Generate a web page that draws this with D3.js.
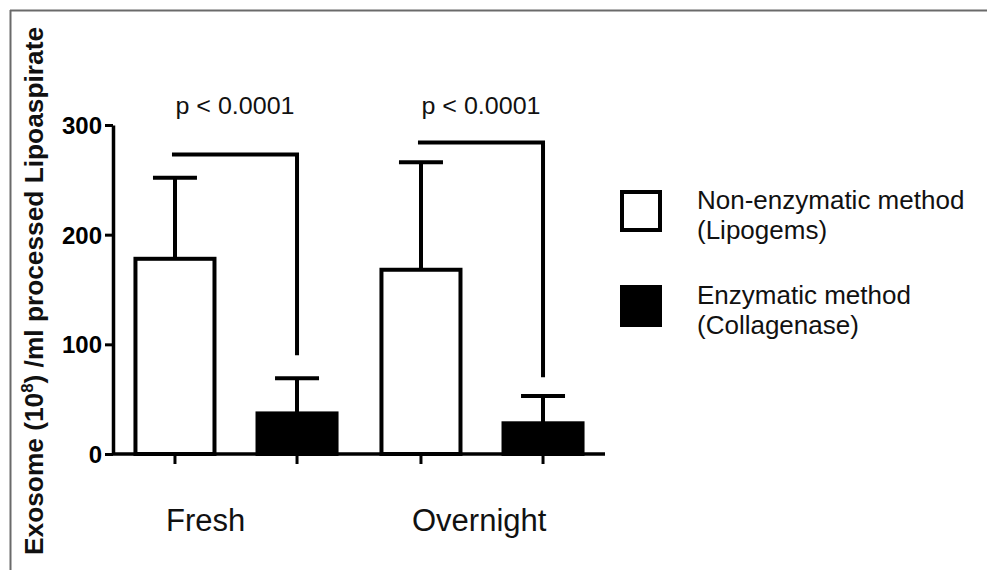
<!DOCTYPE html>
<html>
<head>
<meta charset="utf-8">
<script src="https://cdn.jsdelivr.net/npm/d3@7"></script>
<style>
  html, body { margin: 0; padding: 0; background: #fff; }
  svg { display: block; font-family: "Liberation Sans", Arial, Helvetica, sans-serif; }
</style>
</head>
<body>
<svg id="chart" width="987" height="570"></svg>
<script>
// ---- data ----
const categories = ["Fresh", "Overnight"];
const series = ["Non-enzymatic method (Lipogems)", "Enzymatic method (Collagenase)"];
const nonEnzymaticMean = [178, 168];
const nonEnzymaticSD = [74, 98];
const enzymaticMean = [37, 28];
const enzymaticSD = [32, 25];
const bracketLevel = [273, 284];
const bracketDrop = [90, 70];
const pLabels = ["p < 0.0001", "p < 0.0001"];
const yTicks = [0, 100, 200, 300];
const legendLines = [["Non-enzymatic method", "(Lipogems)"], ["Enzymatic method", "(Collagenase)"]];

const svg = d3.select("#chart");

// frame (top and left edges only visible)
svg.append("line").attr("x1", 10).attr("x2", 987).attr("y1", 10.5).attr("y2", 10.5)
  .attr("stroke", "#6a6a6a").attr("stroke-width", 2);
svg.append("line").attr("x1", 10.5).attr("x2", 10.5).attr("y1", 10).attr("y2", 570)
  .attr("stroke", "#6a6a6a").attr("stroke-width", 2);

const axisX = 113, axisRight = 605;
const y = d3.scaleLinear().domain([0, 300]).range([454, 125]);
const xGroup = d3.scalePoint().domain(categories).range([axisX, axisRight]).padding(0.5);
const groupStep = xGroup.step();
const xInner = d3.scaleBand().domain(series).range([-groupStep / 2, groupStep / 2])
  .paddingInner(0.3525).paddingOuter(0.184);

const bars = [];
categories.forEach((c, i) => {
  bars.push({cat: c, s: series[0], mean: nonEnzymaticMean[i], sd: nonEnzymaticSD[i], fill: "#fff"});
  bars.push({cat: c, s: series[1], mean: enzymaticMean[i], sd: enzymaticSD[i], fill: "#000"});
});
const barLeft = d => xGroup(d.cat) + xInner(d.s);
const barCenter = d => barLeft(d) + xInner.bandwidth() / 2;

// error bars (drawn first so bar outline covers its base)
const eb = svg.append("g").attr("stroke", "#000").attr("stroke-width", 4);
eb.selectAll("line.v").data(bars).join("line").attr("class", "v")
  .attr("x1", barCenter).attr("x2", barCenter)
  .attr("y1", d => y(d.mean)).attr("y2", d => y(d.mean + d.sd));
eb.selectAll("line.cap").data(bars).join("line").attr("class", "cap")
  .attr("x1", d => barCenter(d) - 22).attr("x2", d => barCenter(d) + 22)
  .attr("y1", d => y(d.mean + d.sd)).attr("y2", d => y(d.mean + d.sd));

// bars
svg.append("g").selectAll("rect").data(bars).join("rect")
  .attr("x", barLeft).attr("width", xInner.bandwidth())
  .attr("y", d => y(d.mean)).attr("height", d => y(0) - y(d.mean))
  .attr("fill", d => d.fill).attr("stroke", "#000").attr("stroke-width", 4);

// y axis
const yAxis = d3.axisLeft(y).tickValues(yTicks).tickSize(8).tickSizeOuter(0).tickPadding(3)
  .tickFormat(d3.format("d"));
const gy = svg.append("g").attr("transform", `translate(${axisX},0)`).call(yAxis);
gy.select(".domain").attr("stroke", "#000").attr("stroke-width", 3.5);
gy.selectAll(".tick line").attr("stroke", "#000").attr("stroke-width", 3);
gy.selectAll(".tick text").attr("font-size", 24).attr("font-weight", "bold").attr("fill", "#000")
  .attr("font-family", "'Liberation Sans', Arial, sans-serif").attr("dy", "0.36em");

// x axis line and ticks
svg.append("line").attr("x1", axisX).attr("x2", axisRight).attr("y1", y(0)).attr("y2", y(0))
  .attr("stroke", "#000").attr("stroke-width", 3.5);
svg.append("g").selectAll("line").data(bars).join("line")
  .attr("x1", barCenter).attr("x2", barCenter).attr("y1", y(0)).attr("y2", y(0) + 10)
  .attr("stroke", "#000").attr("stroke-width", 3);

// category labels
svg.append("g").selectAll("text").data(categories).join("text")
  .attr("x", d => xGroup(d) - 70).attr("y", 531)
  .attr("text-anchor", "start").attr("font-size", 31).attr("fill", "#111")
  .text(d => d);

// significance brackets
categories.forEach((c, i) => {
  const b1 = bars[i * 2], b2 = bars[i * 2 + 1];
  const x1 = barCenter(b1) - 3, x2 = barCenter(b2);
  svg.append("path")
    .attr("d", `M${x1},${y(bracketLevel[i])}H${x2}V${y(bracketDrop[i])}`)
    .attr("fill", "none").attr("stroke", "#000").attr("stroke-width", 4);
  svg.append("text").attr("x", xGroup(c) - 1).attr("y", 114)
    .attr("text-anchor", "middle").attr("font-size", 24).attr("fill", "#111")
    .attr("textLength", 119).attr("lengthAdjust", "spacingAndGlyphs")
    .text(pLabels[i]);
});

// y-axis title
const yt = svg.append("text")
  .attr("transform", "translate(43,291) rotate(-90)")
  .attr("text-anchor", "middle").attr("font-size", 25).attr("font-weight", "bold").attr("fill", "#111")
  .attr("textLength", 528).attr("lengthAdjust", "spacingAndGlyphs");
yt.append("tspan").text("Exosome (10");
yt.append("tspan").attr("font-size", 16).attr("dy", -10).text("8");
yt.append("tspan").attr("dy", 10).text(") /ml processed Lipoaspirate");

// legend
const lg = svg.append("g");
lg.append("rect").attr("x", 622).attr("y", 192).attr("width", 38).attr("height", 38)
  .attr("fill", "#fff").attr("stroke", "#000").attr("stroke-width", 4);
lg.append("rect").attr("x", 620).attr("y", 285).attr("width", 42).attr("height", 42)
  .attr("fill", "#000");
const legendY = [209, 304];
legendLines.forEach((lines, i) => {
  lines.forEach((t, j) => {
    lg.append("text").attr("x", 697).attr("y", legendY[i] + j * 30)
      .attr("font-size", 26).attr("fill", "#111").text(t);
  });
});
</script>
</body>
</html>
